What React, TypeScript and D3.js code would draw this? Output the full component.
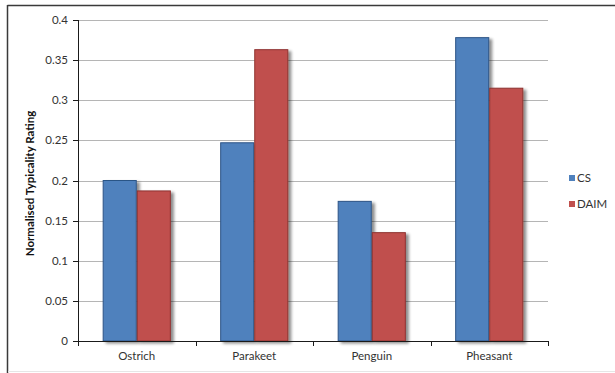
import React from "react";
import * as d3 from "d3";

const categories = ["Ostrich", "Parakeet", "Penguin", "Pheasant"];
const seriesNames = ["CS", "DAIM"];
const csValues = [0.2, 0.247, 0.174, 0.378];
const daimValues = [0.187, 0.363, 0.135, 0.315];
const yTicks = [0, 0.05, 0.1, 0.15, 0.2, 0.25, 0.3, 0.35, 0.4];

const fills = ["#4F81BD", "#C0504D"];
const strokes = ["#2C5486", "#8E3230"];

const W = 615;
const H = 373;
const plot = { left: 78, right: 548, top: 20, bottom: 341 };
const font = "Lato, 'Open Sans', sans-serif";

export default function App() {
  const x = d3.scaleBand<string>().domain(categories).range([plot.left, plot.right]).paddingInner(0.42).paddingOuter(0.21);
  const xOuter = d3.scaleBand<string>().domain(categories).range([plot.left, plot.right]);
  const xSub = d3.scaleBand<string>().domain(seriesNames).range([0, x.bandwidth()]);
  const y = d3.scaleLinear().domain([0, 0.4]).range([plot.bottom, plot.top]);
  const series = [csValues, daimValues];

  return (
    <svg width={W} height={H} style={{ position: "absolute", left: 0, top: 0, background: "#fff" }}>
      <defs>
        <filter id="barShadow" x="-20%" y="-20%" width="160%" height="140%">
          <feGaussianBlur in="SourceAlpha" stdDeviation="1.6" />
          <feOffset dx="3" dy="2" result="off" />
          <feComponentTransfer>
            <feFuncA type="linear" slope="0.45" />
          </feComponentTransfer>
          <feMerge>
            <feMergeNode />
            <feMergeNode in="SourceGraphic" />
          </feMerge>
        </filter>
      </defs>
      {/* chart frame */}
      <line x1={7.5} y1={5.5} x2={W} y2={5.5} stroke="#3a3a3a" strokeWidth={1.5} />
      <line x1={7.5} y1={5} x2={7.5} y2={H} stroke="#3a3a3a" strokeWidth={1.5} />
      <line x1={8} y1={371.5} x2={W} y2={371.5} stroke="#e6e6e6" strokeWidth={1} />

      {/* gridlines */}
      {yTicks.filter((t) => t > 0).map((t) => (
        <line key={t} x1={plot.left} x2={plot.right} y1={Math.round(y(t)) + 0.5} y2={Math.round(y(t)) + 0.5} stroke="#b5b5b5" strokeWidth={1} />
      ))}

      {/* bars */}
      {categories.map((c, i) => (
        <g key={c} transform={`translate(${x(c)},0)`}>
          {seriesNames.map((s, j) => {
            const v = series[j][i];
            return (
              <rect
                key={s}
                x={(xSub(s) as number) + 0.5}
                y={y(v)}
                width={xSub.bandwidth() - 1}
                height={plot.bottom - y(v)}
                fill={fills[j]}
                stroke={strokes[j]}
                strokeWidth={1}
                filter="url(#barShadow)"
              />
            );
          })}
        </g>
      ))}

      {/* y axis */}
      <line x1={plot.left + 0.5} x2={plot.left + 0.5} y1={plot.top} y2={plot.bottom + 4} stroke="#1a1a1a" strokeWidth={1} />
      {yTicks.map((t) => (
        <g key={t}>
          <line x1={plot.left - 5} x2={plot.left} y1={Math.round(y(t)) + 0.5} y2={Math.round(y(t)) + 0.5} stroke="#1a1a1a" />
          <text x={plot.left - 10} y={y(t)} dy="0.35em" textAnchor="end" fontSize={11.5} fontFamily={font} fill="#333">
            {String(t)}
          </text>
        </g>
      ))}

      {/* x axis */}
      <line x1={plot.left} x2={plot.right} y1={plot.bottom + 0.5} y2={plot.bottom + 0.5} stroke="#1a1a1a" />
      {[...categories.map((c) => xOuter(c) as number), plot.right].map((p, i) => (
        <line key={i} x1={Math.round(p) + 0.5} x2={Math.round(p) + 0.5} y1={plot.bottom} y2={plot.bottom + 5} stroke="#1a1a1a" />
      ))}
      {categories.map((c) => (
        <text key={c} x={(xOuter(c) as number) + xOuter.bandwidth() / 2} y={360} textAnchor="middle" fontSize={11.5} fontFamily={font} fill="#333">
          {c}
        </text>
      ))}

      {/* y axis title */}
      <text transform={`translate(34,${(plot.top + plot.bottom) / 2 + 3}) rotate(-90)`} textAnchor="middle" fontSize={11.5} fontWeight="bold" fontFamily={font} fill="#111">
        Normalised Typicality Rating
      </text>

      {/* legend */}
      {seriesNames.map((s, j) => (
        <g key={s} transform={`translate(569,${175 + j * 26})`}>
          <rect x={0} y={0} width={6} height={6} fill={fills[j]} />
          <text x={8} y={3} dy="0.37em" fontSize={11.5} fontFamily={font} fill="#333">
            {s}
          </text>
        </g>
      ))}
    </svg>
  );
}
